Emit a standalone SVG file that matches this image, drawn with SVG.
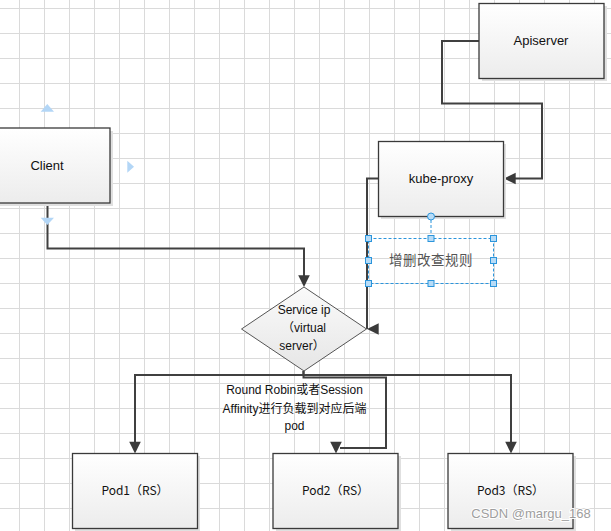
<svg xmlns="http://www.w3.org/2000/svg" width="611" height="531" viewBox="0 0 611 531">
<style>
.box{fill:url(#bg);stroke:#3a3a3a;stroke-width:1.3}
.sh{fill:#e0e0e0}
.lbl{font-family:"Liberation Sans","Noto Sans CJK SC",sans-serif;font-size:13px;fill:#111;text-anchor:middle}
.pod{font-family:"Noto Sans CJK SC","Liberation Sans",sans-serif;font-size:12px;fill:#111;text-anchor:middle}
.small{font-family:"Liberation Sans","Noto Sans CJK SC",sans-serif;font-size:12px;fill:#111;text-anchor:middle}
.conn{fill:none;stroke:#404040;stroke-width:2}
.ah{fill:#3a3a3a}
.hd{fill:#b8dcf7;stroke:#2b95dc;stroke-width:1}
.hint{fill:#b3d6f6}
</style>
<defs>
<linearGradient id="bg" x1="0" y1="0" x2="0" y2="1">
<stop offset="0" stop-color="#ffffff"/>
<stop offset="1" stop-color="#ececec"/>
</linearGradient>
<linearGradient id="dg" x1="0" y1="0" x2="0" y2="1">
<stop offset="0" stop-color="#fafafa"/>
<stop offset="1" stop-color="#e6e6e6"/>
</linearGradient>
<pattern id="grid" width="25" height="25" x="19" y="8" patternUnits="userSpaceOnUse">
<path d="M0.5,0 V25 M0,0.5 H25" stroke="#dadada" stroke-width="1" fill="none"/>
</pattern>
<path id="ah" d="M0,0 L-11.7,-5.8 L-11.7,5.8 Z"/>
</defs>
<rect width="611" height="531" fill="#ffffff"/>
<rect width="611" height="531" fill="url(#grid)"/>

<g id="connectors">
<path class="conn" d="M47.5,203 V248.5 H304 V277"/>
<path class="conn" d="M479,41 H442 V103.5 H542 V178.5 H514"/>
<path class="conn" d="M378,178.5 H367 V329"/>
<path class="conn" d="M303.5,371 V375 H135 V443"/>
<path class="conn" d="M303.5,375 H511 V443"/>
<path class="conn" d="M303.5,371 V377.5 H386 V448 H340"/>
<use href="#ah" class="ah" transform="translate(304,287) rotate(90)"/>
<use href="#ah" class="ah" transform="translate(504,178.5) rotate(180)"/>
<use href="#ah" class="ah" transform="translate(367,329) rotate(180)"/>
<use href="#ah" class="ah" transform="translate(135,453.5) rotate(90)"/>
<use href="#ah" class="ah" transform="translate(336,453.5) rotate(90)"/>
<use href="#ah" class="ah" transform="translate(511,453.5) rotate(90)"/>
</g>

<g id="client">
<rect class="sh" x="-12" y="131" width="125" height="75"/>
<rect class="box" x="-15" y="128" width="125" height="75"/>
<text class="lbl" x="47" y="170">Client</text>
<path class="hint" d="M40.7,111.7 L47.3,104 L54,111.7 Z"/>
<path class="hint" d="M127.3,160.7 L134,166.7 L127.3,172.7 Z"/>
<path class="hint" d="M40.7,217.7 L47.3,225 L54,217.7 Z"/>
</g>

<g id="apiserver">
<rect class="sh" x="482" y="6" width="125" height="75"/>
<rect class="box" x="479" y="3.5" width="125" height="75"/>
<text class="lbl" x="541" y="45">Apiserver</text>
</g>

<g id="kube-proxy">
<rect class="sh" x="381" y="144" width="125" height="75"/>
<rect class="box" x="378.5" y="141.5" width="125" height="75"/>
<text class="lbl" x="441" y="182.5">kube-proxy</text>
</g>

<g id="rules-label">
<line x1="431" y1="220" x2="431" y2="238" stroke="#2b95dc" stroke-width="1" stroke-dasharray="3,2"/>
<rect x="368.5" y="238.5" width="125" height="45" fill="none" stroke="#2b95dc" stroke-width="1" stroke-dasharray="3,2"/>
<text x="431" y="265" font-family="'Noto Sans CJK SC',sans-serif" font-size="13.5" fill="#555" text-anchor="middle" letter-spacing="0.5">增删改查规则</text>
<circle class="hd" cx="431" cy="216.5" r="3.5"/>
<rect class="hd" x="365.5" y="235.5" width="6" height="6"/>
<rect class="hd" x="428" y="235.5" width="6" height="6"/>
<rect class="hd" x="490.5" y="235.5" width="6" height="6"/>
<rect class="hd" x="365.5" y="257.5" width="6" height="6"/>
<rect class="hd" x="490.5" y="257.5" width="6" height="6"/>
<rect class="hd" x="365.5" y="280.5" width="6" height="6"/>
<rect class="hd" x="428" y="280.5" width="6" height="6"/>
<rect class="hd" x="490.5" y="280.5" width="6" height="6"/>
</g>

<g id="service-ip">
<polygon points="304,287 366.5,329 304,371 241.5,329" fill="url(#dg)" stroke="#555" stroke-width="1"/>
<text class="small" x="304" y="313.5">Service ip</text>
<text class="small" x="304" y="331.5">（virtual</text>
<text class="small" x="302" y="350">server）</text>
</g>

<g id="lb-label">
<text class="small" x="294.5" y="393.5">Round Robin或者Session</text>
<text class="small" x="294.5" y="412.5">Affinity进行负载到对应后端</text>
<text class="small" x="294.5" y="430">pod</text>
</g>

<g id="pod1">
<rect class="sh" x="75" y="456" width="125" height="75"/>
<rect class="box" x="72.5" y="453.5" width="125" height="75"/>
<text class="pod" x="135" y="495">Pod1（RS）</text>
</g>
<g id="pod2">
<rect class="sh" x="276" y="456" width="125" height="75"/>
<rect class="box" x="273" y="453.5" width="125" height="75"/>
<text class="pod" x="335.5" y="495">Pod2（RS）</text>
</g>
<g id="pod3">
<rect class="sh" x="451" y="456" width="125" height="75"/>
<rect class="box" x="448" y="453.5" width="125" height="75"/>
<text class="pod" x="510.5" y="495">Pod3（RS）</text>
</g>

<text x="531" y="518" font-family="'Liberation Sans',sans-serif" font-size="13" fill="#9a9a9a" stroke="#ffffff" stroke-width="2" paint-order="stroke" text-anchor="middle" opacity="0.95">CSDN @margu_168</text>
</svg>
